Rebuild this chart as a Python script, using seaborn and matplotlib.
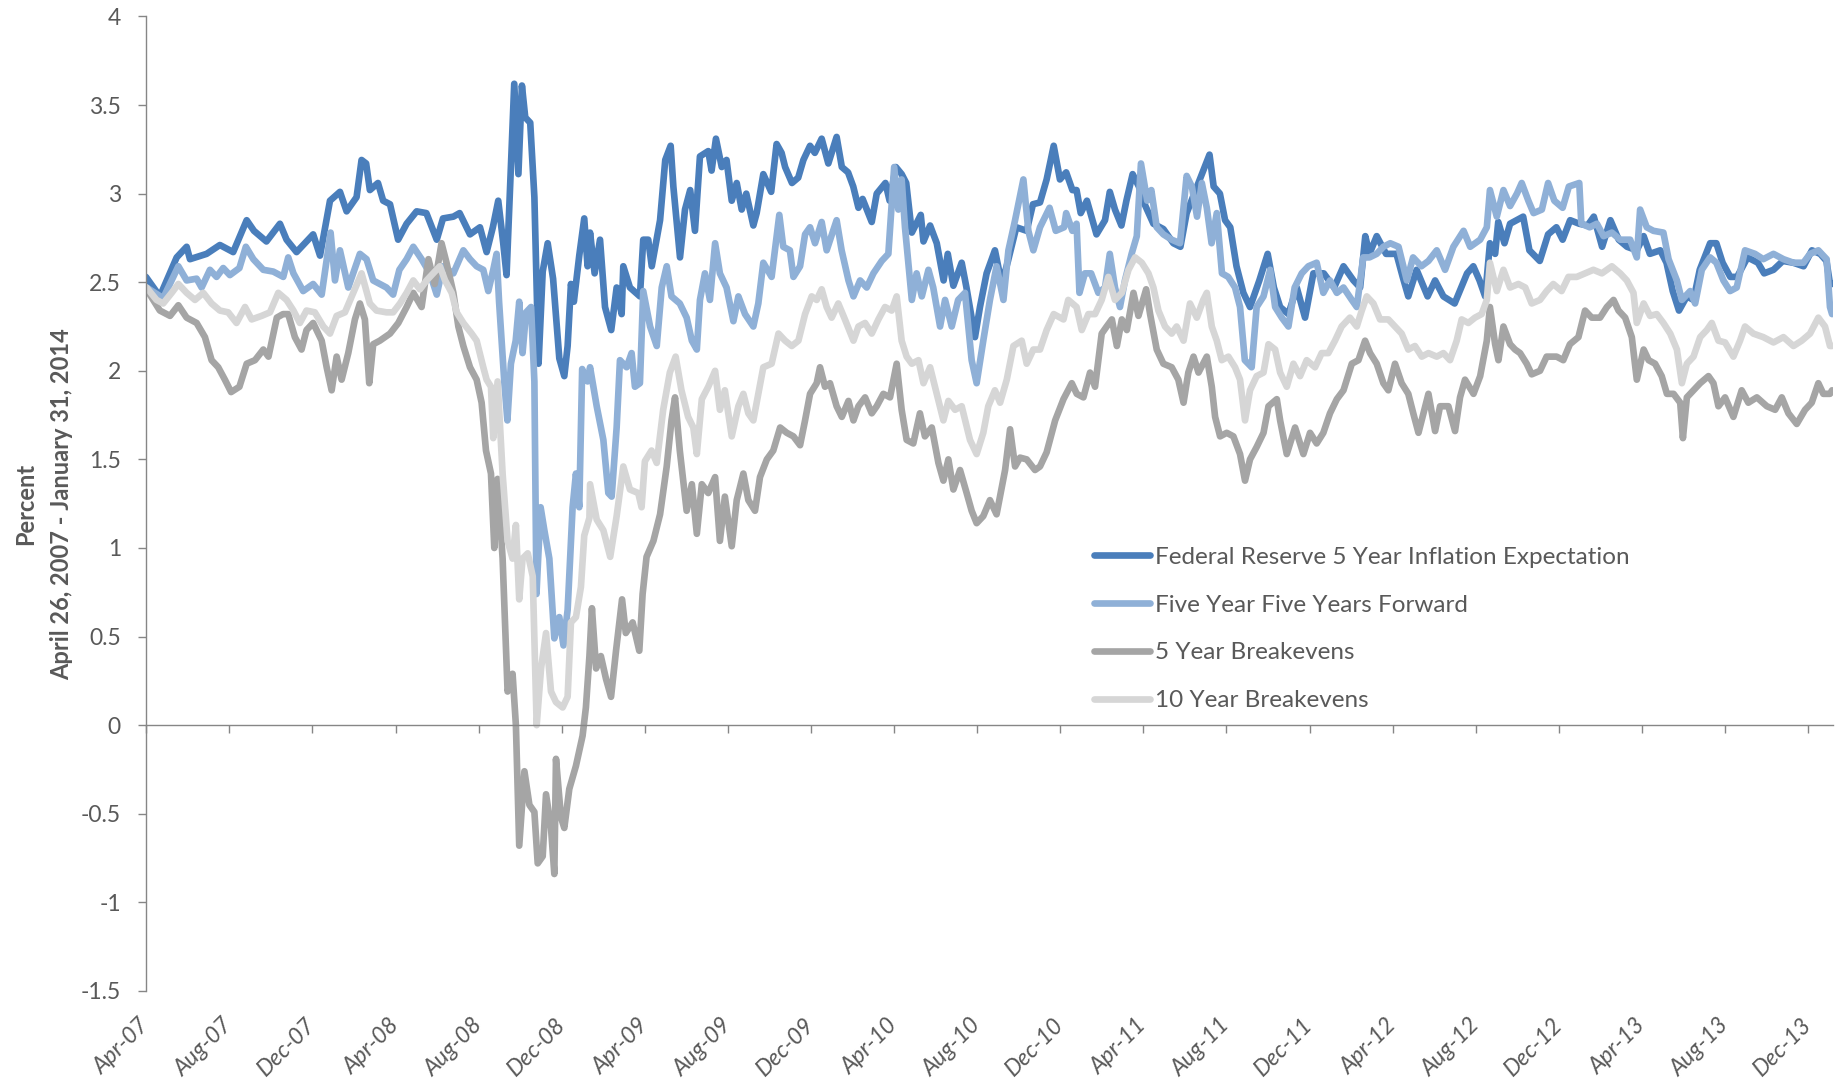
import numpy as np
import pandas as pd
import matplotlib
matplotlib.use("Agg")
import matplotlib.pyplot as plt
import matplotlib.dates as mdates
from matplotlib.ticker import FuncFormatter
import seaborn as sns

# ---------------- data (months elapsed since 26 Apr 2007, percent) ----------------
START = "2007-04-26"
END = "2014-01-31"

series_names = [
    "Federal Reserve 5 Year Inflation Expectation",
    "Five Year Five Years Forward",
    "5 Year Breakevens",
    "10 Year Breakevens",
]
series_colors = ["#4A7EBB", "#8FB0D7", "#A5A5A5", "#D6D6D6"]

fed_months = [0, 0.67, 1.48, 1.96, 2.12, 2.92, 3.56, 4.2, 4.85, 5.2, 5.8, 6.45, 6.77, 7.25, 8.05, 8.38, 8.86, 9.34,
              9.66, 10.14, 10.38, 10.6, 10.78, 11.17, 11.42, 11.75, 12.14, 12.55, 13.03, 13.5, 14.0, 14.3, 14.8, 15.1,
              15.6, 16.08, 16.4, 16.7, 16.96, 17.2, 17.36, 17.73, 17.93, 18.1, 18.26, 18.5, 18.7, 18.9, 19.1, 19.34,
              19.6, 19.9, 20.14, 20.3, 20.46, 20.6, 20.86, 21.1, 21.26,
              21.38, 21.6, 21.86, 22.1, 22.4, 22.66, 22.9, 22.98, 23.3, 23.78, 23.94, 24.18, 24.35, 24.75, 25.0, 25.26,
              25.39, 25.71, 25.95, 26.2, 26.43, 26.67, 27.07, 27.23, 27.44, 27.72, 27.95, 28.2, 28.44, 28.68, 28.9,
              29.24, 29.4, 29.72, 30.1, 30.36, 30.6, 30.77, 31.1, 31.4, 31.65, 31.97, 32.2, 32.53, 32.85, 33.25, 33.5,
              33.8, 34.05, 34.3, 34.5, 34.94, 35.18, 35.6, 35.8, 36.1, 36.38, 36.6, 36.87, 37.3, 37.43, 37.75, 38.07,
              38.4, 38.6, 38.87, 39.27, 39.5, 39.91, 40.15, 40.47, 40.87, 41.2, 41.5, 41.9, 42.4, 42.7,
              43.04, 43.36, 43.7, 44.0, 44.3, 44.6, 44.8, 45.0, 45.3, 45.76, 46.17, 46.4, 46.65, 46.96, 47.2, 47.5,
              47.8, 48.0, 48.5, 48.98, 49.46, 49.8, 50.1, 50.6, 50.9, 51.2, 51.4, 51.7, 51.95, 52.2, 52.5, 52.83,
              53.15, 53.6, 54.0, 54.3, 54.6, 55.0, 55.4, 55.8, 56.2, 56.7, 57.2, 57.65, 58.13, 58.45, 58.7, 58.9,
              59.25, 59.7, 60.2, 60.5, 60.77, 61.17, 61.7, 62.06, 62.46, 63.0, 63.6, 63.9, 64.2, 64.47,
              64.7, 64.95, 65.1, 65.4, 65.67, 65.99, 66.3, 66.6, 67.1, 67.5, 67.9, 68.2, 68.56, 69.0, 69.4, 69.7,
              70.1, 70.5, 70.9, 71.3, 71.77, 72.1, 72.4, 72.9, 73.2, 73.5, 73.8, 74.18, 74.5, 74.8, 75.3, 75.6, 75.9,
              76.27, 76.6, 77.1, 77.6, 77.9, 78.35, 78.8, 79.3, 79.8, 80.2, 80.6, 80.9, 81.07, 81.17]
fed_values = [2.53, 2.42, 2.64, 2.70, 2.63, 2.66, 2.71, 2.67, 2.85, 2.79, 2.73, 2.83, 2.74, 2.67, 2.77, 2.65, 2.96,
              3.01, 2.90, 2.98, 3.19, 3.17, 3.02, 3.06, 2.96, 2.94, 2.74, 2.83, 2.90, 2.89, 2.74, 2.86, 2.87, 2.89,
              2.77, 2.81, 2.67, 2.81, 2.96, 2.72, 2.54, 3.62, 3.11, 3.61, 3.43, 3.40, 2.98, 2.04, 2.56, 2.72, 2.52,
              2.07, 1.97, 2.14, 2.49, 2.39, 2.65, 2.86, 2.59,
              2.78, 2.55, 2.74, 2.36, 2.23, 2.47, 2.32, 2.59, 2.47, 2.42, 2.74, 2.74, 2.59, 2.85, 3.19, 3.27, 3.04,
              2.64, 2.91, 3.02, 2.79, 3.21, 3.24, 3.13, 3.31, 3.15, 3.19, 2.96, 3.06, 2.91, 3.00, 2.82, 2.89, 3.11,
              3.01, 3.28, 3.23, 3.15, 3.06, 3.09, 3.19, 3.27, 3.23, 3.31, 3.17, 3.32, 3.15, 3.12, 3.04, 2.92, 2.97,
              2.84, 3.00, 3.06, 2.96, 3.15, 3.11, 3.06, 2.78, 2.88, 2.73, 2.82, 2.72, 2.51, 2.66, 2.48, 2.61, 2.47,
              2.19, 2.36, 2.55, 2.68, 2.49, 2.62, 2.81, 2.79, 2.94,
              2.95, 3.08, 3.27, 3.08, 3.12, 3.02, 3.02, 2.89, 2.96, 2.77, 2.85, 3.01, 2.91, 2.82, 2.96, 3.11, 3.04,
              2.96, 2.83, 2.80, 2.72, 2.70, 2.89, 3.04, 3.13, 3.22, 3.04, 3.00, 2.85, 2.81, 2.59, 2.44, 2.36, 2.51,
              2.66, 2.47, 2.36, 2.32, 2.47, 2.30, 2.55, 2.55, 2.47, 2.59, 2.51, 2.47, 2.76, 2.66, 2.76, 2.66, 2.66,
              2.53, 2.42, 2.57, 2.42, 2.51, 2.42, 2.38, 2.55, 2.59, 2.51, 2.42,
              2.72, 2.66, 2.84, 2.72, 2.83, 2.85, 2.87, 2.68, 2.62, 2.77, 2.81, 2.74, 2.85, 2.83, 2.82, 2.87, 2.70,
              2.85, 2.74, 2.70, 2.68, 2.76, 2.66, 2.68, 2.61, 2.45, 2.34, 2.42, 2.40, 2.57, 2.72, 2.72, 2.61, 2.53,
              2.53, 2.64, 2.61, 2.55, 2.57, 2.62, 2.61, 2.59, 2.68, 2.66, 2.62, 2.49, 2.49]

fwd_months = [0.03, 0.83, 1.32, 1.56, 1.96, 2.44, 2.68, 3.08, 3.4, 3.72, 4.04, 4.5, 4.81, 5.17, 5.65, 6.13, 6.61,
              6.85, 7.1, 7.57, 8.05, 8.46, 8.89, 9.1, 9.34, 9.74, 10.3, 10.62, 10.94, 11.58, 11.9, 12.2, 12.55, 12.87,
              13.27, 13.67, 14.0, 14.3, 14.8, 15.28, 15.6, 15.92, 16.24, 16.48, 16.72, 16.88,
              17.0, 17.25, 17.4, 17.57, 17.8, 17.97, 18.13, 18.3, 18.54, 18.7, 18.8, 19.0, 19.18, 19.42, 19.66, 19.9,
              20.1, 20.3, 20.54, 20.7, 20.86, 21.0, 21.26,
              21.38, 21.7, 22.02, 22.26, 22.42, 22.66, 22.82, 23.14, 23.38, 23.54, 23.78, 23.94, 24.27, 24.59, 24.83,
              25.07, 25.3, 25.7, 26.03, 26.28, 26.52, 26.67, 26.91, 27.15, 27.4, 27.63, 27.95, 28.28, 28.52, 28.84,
              29.24, 29.48, 29.72, 30.12, 30.49, 30.68, 31.0, 31.17, 31.49, 31.73, 31.97, 32.21, 32.53, 32.77, 33.25,
              33.49, 33.82, 34.06, 34.38, 34.7, 35.02, 35.42, 35.74, 36.02, 36.22, 36.38, 36.54, 36.87, 37.1, 37.35,
              37.67, 37.9, 38.23, 38.47, 38.79, 39.1, 39.43, 39.75, 39.99, 40.31, 40.63, 40.95, 41.28, 41.52, 41.84,
              42.24, 42.48, 42.72,
              43.04, 43.5, 43.8, 44.2, 44.3, 44.6, 44.8, 44.94, 45.2, 45.5, 45.85, 46.17, 46.4, 46.65, 46.89, 47.13,
              47.45, 47.7, 47.9, 48.2, 48.4, 48.66, 48.98, 49.38, 49.78, 50.1, 50.35, 50.6, 50.83, 51.07, 51.3, 51.55,
              51.8, 52.1, 52.43, 52.67, 52.9, 53.23, 53.47, 53.8, 54.12, 54.36, 54.68, 55.0, 55.3, 55.64, 55.96,
              56.36, 56.68, 57.0, 57.33, 57.65, 58.05, 58.29, 58.6, 58.9, 59.25, 59.57, 59.9, 60.3, 60.7, 61.0, 61.4,
              61.74, 62.14, 62.54, 62.94, 63.43, 63.75, 64.23, 64.55,
              64.7, 65.03, 65.35, 65.67, 66.0, 66.23, 66.55, 66.8, 67.2, 67.5, 67.8, 68.2, 68.5, 69.0, 69.1, 69.5,
              69.85, 70.17, 70.57, 70.97, 71.45, 71.77, 71.93, 72.25, 72.57, 73.05, 73.3, 73.7, 73.94, 74.34, 74.58,
              74.9, 75.3, 75.6, 75.94, 76.26, 76.58, 76.98, 77.46, 77.86, 78.35, 78.83, 79.31, 79.79, 80.11, 80.51,
              80.91, 81.07, 81.17]
fwd_values = [2.47, 2.41, 2.53, 2.59, 2.51, 2.52, 2.47, 2.57, 2.53, 2.58, 2.54, 2.58, 2.70, 2.63, 2.57, 2.56, 2.53,
              2.64, 2.55, 2.45, 2.49, 2.43, 2.78, 2.51, 2.68, 2.47, 2.66, 2.63, 2.51, 2.47, 2.43, 2.57, 2.63, 2.70,
              2.63, 2.55, 2.43, 2.59, 2.55, 2.68, 2.63, 2.59, 2.57, 2.45, 2.57, 2.66,
              2.39, 1.94, 1.72, 2.04, 2.17, 2.39, 2.10, 2.33, 2.36, 1.94, 0.74, 1.23, 1.10, 0.94, 0.49, 0.61, 0.45,
              0.65, 1.23, 1.42, 1.23, 2.01, 1.94,
              2.02, 1.80, 1.61, 1.31, 1.29, 1.68, 2.06, 2.02, 2.10, 1.91, 1.93, 2.45, 2.25, 2.14, 2.47, 2.59, 2.42,
              2.38, 2.30, 2.17, 2.12, 2.40, 2.55, 2.40, 2.72, 2.55, 2.47, 2.28, 2.42, 2.32, 2.25, 2.38, 2.61, 2.53,
              2.88, 2.70, 2.68, 2.53, 2.59, 2.77, 2.81, 2.72, 2.84, 2.68, 2.85, 2.68, 2.51, 2.42, 2.51, 2.47, 2.55,
              2.62, 2.66, 3.15, 2.91, 3.08, 2.81, 2.40, 2.55, 2.42, 2.57, 2.47, 2.25, 2.40, 2.25, 2.40, 2.44, 2.06,
              1.93, 2.17, 2.40, 2.59, 2.40, 2.68, 2.85, 3.08, 2.79, 2.68,
              2.81, 2.92, 2.79, 2.81, 2.89, 2.79, 2.83, 2.44, 2.55, 2.55, 2.44, 2.47, 2.66, 2.47, 2.36, 2.51, 2.66,
              2.76, 3.17, 2.96, 3.02, 2.81, 2.77, 2.74, 2.72, 3.10, 3.04, 2.87, 3.06, 2.92, 2.72, 2.89, 2.55, 2.53,
              2.47, 2.36, 2.06, 2.02, 2.36, 2.42, 2.57, 2.36, 2.30, 2.25, 2.47, 2.55, 2.59, 2.61, 2.44, 2.51, 2.44,
              2.47, 2.40, 2.36, 2.64, 2.64, 2.66, 2.70, 2.72, 2.70, 2.51, 2.64, 2.59, 2.62, 2.68, 2.57, 2.70, 2.79,
              2.70, 2.74, 2.81,
              3.02, 2.87, 3.02, 2.93, 3.00, 3.06, 2.96, 2.89, 2.91, 3.06, 2.96, 2.92, 3.04, 3.06, 2.83, 2.81, 2.83,
              2.76, 2.78, 2.74, 2.74, 2.64, 2.91, 2.81, 2.79, 2.78, 2.63, 2.51, 2.40, 2.45, 2.38, 2.57, 2.64, 2.61,
              2.51, 2.45, 2.47, 2.68, 2.66, 2.63, 2.66, 2.63, 2.61, 2.61, 2.66, 2.68, 2.63, 2.36, 2.32]

be5_months = [0.03, 0.67, 1.16, 1.56, 1.96, 2.44, 2.84, 3.16, 3.48, 3.8, 4.1, 4.5, 4.85, 5.25, 5.65, 5.9, 6.3, 6.6,
              6.85, 7.17, 7.49, 7.73, 8.05, 8.46, 8.7, 8.94, 9.18, 9.42, 9.74, 10.06, 10.3, 10.54, 10.75, 10.94,
              11.26, 11.75, 12.15, 12.55, 12.87, 13.27, 13.6, 13.9, 14.23, 14.47, 14.8, 15.04, 15.28, 15.6, 15.92,
              16.16,
              16.37, 16.61, 16.77, 16.93, 17.17, 17.41, 17.65, 17.81, 17.97, 18.22, 18.46, 18.7, 18.86, 19.1, 19.26,
              19.5, 19.66, 19.74, 19.98, 20.14, 20.38, 20.7, 21.02, 21.18, 21.35, 21.47, 21.67, 21.9, 22.15, 22.39,
              22.63, 22.92, 23.1, 23.43, 23.75, 23.91,
              24.1, 24.43, 24.75, 25.07, 25.3, 25.47, 25.7, 26.03, 26.28, 26.52, 26.76, 27.07, 27.4, 27.63, 27.87,
              28.2, 28.44, 28.76, 29.0, 29.32, 29.56, 29.89, 30.2, 30.53, 30.85, 31.17, 31.49, 31.73, 31.97, 32.29,
              32.45, 32.69, 32.93, 33.25, 33.5, 33.82, 34.06, 34.3, 34.62, 34.94, 35.18, 35.5, 35.82, 36.14, 36.38,
              36.62, 36.94, 37.26, 37.5, 37.83, 38.15, 38.39, 38.63, 38.87, 39.19, 39.51, 39.75, 39.99, 40.31, 40.63,
              40.95, 41.36, 41.6, 41.84, 42.08, 42.4, 42.8,
              43.04, 43.36, 43.77, 44.17, 44.57, 44.81, 45.13, 45.45, 45.69, 46.01, 46.25, 46.5, 46.74, 46.98, 47.22,
              47.54, 47.78, 48.15, 48.34, 48.66, 48.98, 49.38, 49.7, 49.95, 50.18, 50.43, 50.67, 51.07, 51.31, 51.47,
              51.71, 52.03, 52.35, 52.67, 52.91, 53.15, 53.47, 53.8, 54.04, 54.44, 54.6, 54.92, 55.32, 55.72, 56.04,
              56.36, 56.68, 57.0, 57.33, 57.65, 58.05, 58.37, 58.69, 58.93, 59.25, 59.57, 59.81, 60.13, 60.45, 60.77,
              61.01, 61.26, 61.5, 61.74, 62.06, 62.3, 62.7, 63.02, 63.26, 63.5, 63.91, 64.23, 64.55,
              64.7, 64.95, 65.11, 65.35, 65.67, 65.91, 66.15, 66.47, 66.71, 67.11, 67.43, 67.91, 68.23, 68.55, 68.96,
              69.28, 69.6, 70.0, 70.33, 70.65, 70.89, 71.21, 71.53, 71.77, 72.1, 72.34, 72.65, 72.97, 73.22, 73.54,
              73.86, 73.99, 74.18, 74.5, 74.82, 75.22, 75.46, 75.7, 76.02, 76.42, 76.82, 77.14, 77.55, 78.03, 78.43,
              78.75, 79.07, 79.47, 79.87, 80.19, 80.51, 80.75, 81.07, 81.17]
be5_values = [2.46, 2.34, 2.31, 2.37, 2.30, 2.27, 2.19, 2.06, 2.02, 1.95, 1.88, 1.91, 2.04, 2.06, 2.12, 2.08, 2.30,
              2.32, 2.32, 2.19, 2.12, 2.23, 2.27, 2.17, 2.02, 1.89, 2.08, 1.95, 2.10, 2.29, 2.38, 2.29, 1.93, 2.15,
              2.17, 2.21, 2.27, 2.36, 2.44, 2.36, 2.63, 2.49, 2.72, 2.61, 2.44, 2.25, 2.14, 2.02, 1.95, 1.82,
              1.55, 1.42, 1.00, 1.39, 0.94, 0.19, 0.29, 0.00, -0.68, -0.26, -0.45, -0.49, -0.78, -0.74, -0.39, -0.58,
              -0.84, -0.19, -0.52, -0.58, -0.36, -0.23, -0.06, 0.10, 0.39, 0.66, 0.32, 0.39, 0.26, 0.16, 0.42, 0.71,
              0.52, 0.58, 0.42, 0.74,
              0.95, 1.04, 1.19, 1.46, 1.72, 1.85, 1.55, 1.21, 1.36, 1.08, 1.36, 1.31, 1.40, 1.04, 1.29, 1.01, 1.27,
              1.42, 1.27, 1.21, 1.40, 1.50, 1.55, 1.68, 1.65, 1.63, 1.58, 1.72, 1.87, 1.93, 2.02, 1.91, 1.93, 1.80,
              1.74, 1.83, 1.72, 1.80, 1.85, 1.76, 1.80, 1.87, 1.85, 2.04, 1.78, 1.61, 1.59, 1.76, 1.63, 1.68, 1.48,
              1.38, 1.50, 1.33, 1.44, 1.31, 1.21, 1.14, 1.18, 1.27, 1.19, 1.44, 1.67, 1.46, 1.51, 1.50, 1.44,
              1.46, 1.54, 1.72, 1.84, 1.93, 1.87, 1.85, 1.99, 1.91, 2.21, 2.25, 2.29, 2.14, 2.29, 2.23, 2.44, 2.31,
              2.46, 2.32, 2.12, 2.04, 2.02, 1.95, 1.82, 1.99, 2.08, 1.99, 2.08, 1.91, 1.74, 1.63, 1.65, 1.63, 1.53,
              1.38, 1.50, 1.57, 1.65, 1.80, 1.84, 1.72, 1.53, 1.68, 1.53, 1.65, 1.59, 1.65, 1.76, 1.84, 1.89, 2.04,
              2.06, 2.17, 2.10, 2.04, 1.93, 1.89, 2.04, 1.93, 1.87, 1.76, 1.65, 1.76, 1.87, 1.66, 1.80, 1.80, 1.66,
              1.85, 1.95, 1.87, 1.97, 2.17,
              2.36, 2.15, 2.06, 2.25, 2.15, 2.12, 2.10, 2.04, 1.98, 2.00, 2.08, 2.08, 2.06, 2.15, 2.19, 2.34, 2.30,
              2.30, 2.36, 2.40, 2.34, 2.30, 2.19, 1.95, 2.12, 2.06, 2.04, 1.97, 1.87, 1.87, 1.82, 1.62, 1.85, 1.89,
              1.93, 1.97, 1.93, 1.80, 1.85, 1.74, 1.89, 1.82, 1.85, 1.80, 1.78, 1.85, 1.76, 1.70, 1.78, 1.82, 1.93,
              1.87, 1.87, 1.89]

be10_months = [0.03, 0.51, 0.83, 1.24, 1.56, 1.96, 2.36, 2.76, 3.16, 3.56, 3.96, 4.36, 4.77, 5.09, 5.57, 5.97, 6.37,
               6.77, 7.1, 7.41, 7.73, 8.13, 8.54, 8.86, 9.18, 9.58, 9.98, 10.38, 10.78, 11.1, 11.58, 11.9, 12.23,
               12.55, 12.87, 13.19, 13.51, 13.83, 14.15, 14.4, 14.72, 14.96, 15.28, 15.68, 15.92, 16.24, 16.4,
               16.61, 16.72, 16.93, 17.17, 17.41, 17.65, 17.81, 17.97, 18.13, 18.38, 18.62, 18.81, 19.02, 19.26, 19.5,
               19.74, 20.06, 20.3, 20.46, 20.7, 20.94, 21.1, 21.35,
               21.38, 21.7, 22.02, 22.35, 22.66, 22.98, 23.3, 23.7, 23.86, 24.02, 24.34, 24.59, 24.9, 25.22, 25.5,
               25.78, 26.1, 26.35, 26.52, 26.76, 27.07, 27.4, 27.63, 27.87, 28.2, 28.52, 28.76, 29.0, 29.24, 29.48,
               29.72, 30.12, 30.45, 30.77, 31.09, 31.41, 31.73, 32.05, 32.29, 32.53, 32.77, 33.01, 33.33, 33.65, 34.06,
               34.3, 34.62, 34.94, 35.26, 35.58, 35.9, 36.14, 36.38, 36.62, 36.87, 37.19, 37.43, 37.75, 38.07, 38.39,
               38.63, 38.95, 39.27, 39.67, 39.99, 40.31, 40.55, 40.87, 41.12, 41.44, 41.76, 42.16, 42.4, 42.72,
               43.04, 43.36, 43.7, 44.17, 44.4, 44.8, 45.05, 45.37, 45.69, 46.01, 46.33, 46.65, 46.98, 47.3, 47.62,
               47.94, 48.26, 48.5, 48.74, 49.06, 49.38, 49.62, 49.95, 50.26, 50.59, 50.9, 51.07, 51.31, 51.55, 51.79,
               52.11, 52.43, 52.67, 52.91, 53.15, 53.47, 53.8, 54.04, 54.36, 54.6, 54.92, 55.24, 55.56, 55.88, 56.28,
               56.6, 56.92, 57.24, 57.56, 57.96, 58.29, 58.53, 58.77, 59.09, 59.41, 59.81, 60.13, 60.45, 60.77, 61.09,
               61.42, 61.74, 62.14, 62.46, 62.78, 63.1, 63.34, 63.66, 63.98, 64.3, 64.55,
               64.7, 65.03, 65.35, 65.67, 66.07, 66.4, 66.71, 67.11, 67.43, 67.75, 68.15, 68.48, 68.88, 69.28, 69.68,
               70.09, 70.57, 70.97, 71.29, 71.61, 71.77, 72.1, 72.41, 72.73, 73.05, 73.38, 73.7, 73.94, 74.18, 74.5,
               74.82, 75.14, 75.38, 75.7, 76.02, 76.42, 76.74, 76.98, 77.38, 77.86, 78.35, 78.83, 79.31, 79.71, 80.11,
               80.51, 80.83, 81.07, 81.17]
be10_values = [2.47, 2.40, 2.38, 2.44, 2.49, 2.44, 2.40, 2.44, 2.38, 2.34, 2.33, 2.27, 2.36, 2.29, 2.31, 2.33, 2.44,
               2.40, 2.34, 2.27, 2.34, 2.33, 2.25, 2.21, 2.31, 2.33, 2.44, 2.55, 2.38, 2.34, 2.33, 2.33, 2.38, 2.44,
               2.51, 2.46, 2.51, 2.55, 2.59, 2.51, 2.44, 2.33, 2.27, 2.21, 2.17, 2.02, 1.95,
               1.91, 1.62, 1.94, 1.42, 1.04, 0.94, 1.13, 0.71, 0.94, 0.97, 0.84, 0.00, 0.32, 0.52, 0.19, 0.13, 0.10,
               0.16, 0.58, 0.61, 0.78, 1.07, 1.17,
               1.36, 1.16, 1.10, 0.95, 1.18, 1.46, 1.33, 1.31, 1.23, 1.49, 1.55, 1.48, 1.78, 1.99, 2.08, 1.89, 1.74,
               1.68, 1.53, 1.84, 1.91, 2.00, 1.78, 1.89, 1.63, 1.80, 1.87, 1.76, 1.72, 1.87, 2.02, 2.04, 2.21, 2.17,
               2.14, 2.17, 2.32, 2.42, 2.40, 2.46, 2.36, 2.30, 2.38, 2.29, 2.17, 2.25, 2.27, 2.21, 2.29, 2.36, 2.34,
               2.42, 2.17, 2.08, 2.04, 2.06, 1.93, 2.02, 1.87, 1.72, 1.83, 1.78, 1.80, 1.61, 1.53, 1.65, 1.80, 1.89,
               1.82, 1.95, 2.14, 2.17, 2.04, 2.12,
               2.12, 2.23, 2.32, 2.29, 2.40, 2.36, 2.23, 2.32, 2.32, 2.40, 2.53, 2.40, 2.44, 2.57, 2.64, 2.61, 2.55,
               2.47, 2.34, 2.25, 2.21, 2.25, 2.17, 2.38, 2.30, 2.40, 2.44, 2.25, 2.17, 2.06, 2.08, 2.02, 1.95, 1.72,
               1.89, 1.97, 1.99, 2.15, 2.12, 1.99, 1.91, 2.04, 1.97, 2.06, 2.02, 2.10, 2.10, 2.17, 2.25, 2.30, 2.25,
               2.34, 2.42, 2.38, 2.29, 2.29, 2.25, 2.21, 2.12, 2.14, 2.08, 2.10, 2.08, 2.10, 2.06, 2.17, 2.29, 2.27,
               2.30, 2.32, 2.40,
               2.61, 2.45, 2.57, 2.47, 2.49, 2.47, 2.38, 2.40, 2.45, 2.49, 2.45, 2.53, 2.53, 2.55, 2.57, 2.55, 2.59,
               2.55, 2.51, 2.44, 2.27, 2.38, 2.31, 2.32, 2.27, 2.21, 2.12, 1.93, 2.04, 2.08, 2.19, 2.23, 2.27, 2.17,
               2.16, 2.08, 2.17, 2.25, 2.21, 2.19, 2.16, 2.19, 2.14, 2.17, 2.21, 2.30, 2.25, 2.14, 2.14]

tick_labels = ["Apr-07", "Aug-07", "Dec-07", "Apr-08", "Aug-08", "Dec-08", "Apr-09", "Aug-09", "Dec-09", "Apr-10",
               "Aug-10", "Dec-10", "Apr-11", "Aug-11", "Dec-11", "Apr-12", "Aug-12", "Dec-12", "Apr-13", "Aug-13",
               "Dec-13"]
y_ticks = [-1.5, -1, -0.5, 0, 0.5, 1, 1.5, 2, 2.5, 3, 3.5, 4]
y_label = "Percent\nApril 26, 2007 - January 31, 2014"

# ---------------- build long table ----------------
start = pd.Timestamp(START)
end = pd.Timestamp(END)
DAYS_PER_MONTH = 365.25 / 12


def to_dates(months):
    return start + pd.to_timedelta(np.asarray(months, dtype=float) * DAYS_PER_MONTH, unit="D")


frames = []
for name, mm, vv in zip(series_names,
                        [fed_months, fwd_months, be5_months, be10_months],
                        [fed_values, fwd_values, be5_values, be10_values]):
    frames.append(pd.DataFrame({"date": to_dates(mm), "value": vv, "series": name}))
df = pd.concat(frames, ignore_index=True)

tick_dates = pd.date_range(start, periods=len(tick_labels), freq=pd.DateOffset(months=4))

# ---------------- plot ----------------
sns.set_theme(style="white")
plt.rcParams["font.family"] = ["Lato", "DejaVu Sans"]

TXT = "#595959"
AX = "#868686"
LW = 4.8

fig = plt.figure(figsize=(18.45, 10.81), dpi=100)
ax = fig.add_axes([0.0791, 0.0833, 0.9144, 0.9015])

sns.lineplot(data=df, x="date", y="value", hue="series", hue_order=series_names,
             palette=dict(zip(series_names, series_colors)), linewidth=LW,
             estimator=None, sort=False, errorbar=None, ax=ax)
for ln in ax.lines:
    ln.set_solid_joinstyle("round")
    ln.set_solid_capstyle("round")

ax.set_xlim(start, end)
ax.set_ylim(-1.5, 4)
ax.set_yticks(y_ticks)
ax.yaxis.set_major_formatter(FuncFormatter(lambda v, p: f"{v:g}"))
ax.tick_params(axis="y", direction="out", length=6, width=1, color=AX, labelcolor=TXT,
               labelsize=16.5, pad=12, left=True)

for s in ["top", "right"]:
    ax.spines[s].set_visible(False)
for s in ["left", "bottom"]:
    ax.spines[s].set_color(AX)
    ax.spines[s].set_linewidth(1.0)
ax.spines["bottom"].set_position(("data", 0))

ax.set_xticks(tick_dates)
ax.tick_params(axis="x", direction="out", length=6, width=1, color=AX, labelbottom=False, bottom=True)

sec = ax.secondary_xaxis("bottom")
sec.set_xticks(mdates.date2num(tick_dates))
sec.set_xticklabels(tick_labels, rotation=45, ha="right", va="center", rotation_mode="anchor",
                    fontstyle="italic", fontsize=16.5, color=TXT)
sec.tick_params(axis="x", length=0, pad=22)
sec.spines["bottom"].set_visible(False)

ax.set_xlabel("")
ax.set_ylabel(y_label, fontsize=17, fontweight="bold", color=TXT, linespacing=1.7)
ax.yaxis.set_label_coords(-0.043, 0.5)

handles, labels = ax.get_legend_handles_labels()
leg = ax.legend(handles, labels, loc="upper left", bbox_to_anchor=(0.593, 0.494),
                bbox_transform=fig.transFigure, frameon=False, fontsize=17.5,
                handlelength=2.3, handletextpad=0.19, labelspacing=1.1,
                borderpad=0, borderaxespad=0)
for t in leg.get_texts():
    t.set_color(TXT)
for h in leg.get_lines():
    h.set_linewidth(LW)

fig.savefig("out.png", dpi=100, facecolor="white")
